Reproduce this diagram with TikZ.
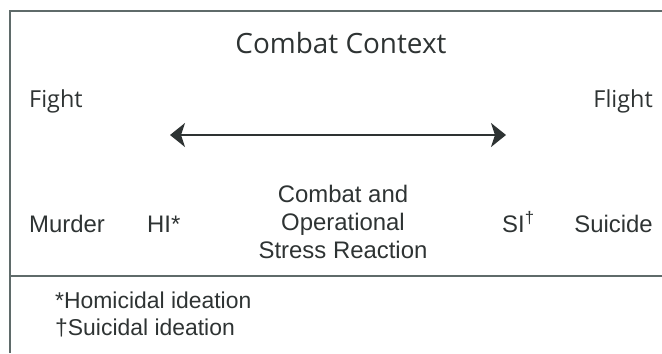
\documentclass[tikz,border=0pt]{standalone}
\usepackage{fontspec}
\newfontfamily\titlefont{Open Sans}
\newfontfamily\rowfont{Liberation Sans}
\usetikzlibrary{arrows.meta}
\definecolor{framegray}{HTML}{5F6B6A}
\definecolor{inkgray}{HTML}{2E3333}
\newcommand{\lowlabel}[4]{\node[rowtext, anchor=#2] (#1) at (#3,232) {#4};}

\begin{document}
\begin{tikzpicture}[x=1bp, y=-1bp,
  toptext/.style={text=inkgray, font=\titlefont\fontsize{23.5}{26}\selectfont, inner sep=0},
  rowtext/.style={text=inkgray, font=\rowfont\fontsize{24}{28}\selectfont, inner sep=0},
  notetext/.style={text=inkgray, font=\rowfont\fontsize{23}{27}\selectfont, inner sep=0, anchor=base west},
  >={Stealth[length=15bp, width=24bp, inset=4bp]}]
  \useasboundingbox (0,0) rectangle (662,353);

  % Frame
  % -----
  \draw[framegray, line width=2bp] (10,353) -- (10,11) -- (662,11);
  \draw[framegray, line width=1.5bp] (10,276) -- (662,276);

  % Context
  % -------
  \node[toptext, font=\titlefont\fontsize{28}{30}\selectfont, anchor=base] (context) at (341,53) {Combat Context};
  \node[toptext, anchor=base west] (fight) at (29,107) {Fight};
  \node[toptext, anchor=base east] (flight) at (653,107) {Flight};

  \coordinate (fightend) at (170,135);
  \coordinate (flightend) at (506,135);
  \draw[<->, inkgray, line width=2bp] (fightend) -- (flightend);

  % Reactions
  % ---------
  \lowlabel{murder}{base west}{29}{Murder};
  \lowlabel{hi}{base west}{147}{HI*};
  \lowlabel{si}{base west}{502}{SI\textsuperscript{†}};
  \lowlabel{suicide}{base east}{653}{Suicide};
  \node[rowtext, align=center] (cosr) at (343,222) {Combat and\\Operational\\Stress Reaction};

  % Notes
  % -----
  \node[notetext] (hinote) at (55,308) {*Homicidal ideation};
  \node[notetext] (sinote) at (55,335) {†Suicidal ideation};

\end{tikzpicture}
\end{document}
